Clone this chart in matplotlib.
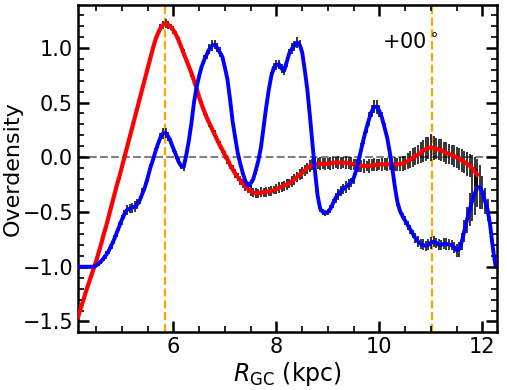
import numpy as np
import matplotlib
matplotlib.use("Agg")
import matplotlib.pyplot as plt
from matplotlib.ticker import MultipleLocator

# overdensity profiles along R_GC (0.05 kpc steps)
r_red = np.round(np.arange(4.15, 11.901, 0.05), 2)
od_red = [-1.46, -1.38, -1.31, -1.23, -1.16, -1.09, -1.02, -0.95, -0.87, -0.79,
          -0.70, -0.62, -0.53, -0.44, -0.35, -0.26, -0.18, -0.09, 0.00, 0.09,
          0.18, 0.27, 0.36, 0.45, 0.54, 0.63, 0.72, 0.81, 0.90, 0.99,
          1.07, 1.13, 1.18, 1.21, 1.22, 1.21, 1.19, 1.16, 1.12, 1.07,
          1.01, 0.95, 0.89, 0.83, 0.77, 0.70, 0.63, 0.55, 0.48, 0.42,
          0.36, 0.31, 0.26, 0.21, 0.16, 0.11, 0.07, 0.02, -0.02, -0.07,
          -0.11, -0.15, -0.18, -0.21, -0.24, -0.27, -0.29, -0.31, -0.32, -0.33,
          -0.33, -0.32, -0.32, -0.32, -0.31, -0.31, -0.30, -0.29, -0.28, -0.27,
          -0.26, -0.25, -0.24, -0.22, -0.20, -0.18, -0.16, -0.14, -0.12, -0.10,
          -0.08, -0.07, -0.06, -0.06, -0.06, -0.06, -0.06, -0.06, -0.055, -0.05,
          -0.05, -0.05, -0.05, -0.05, -0.05, -0.055, -0.06, -0.065, -0.07, -0.075,
          -0.08, -0.08, -0.08, -0.08, -0.075, -0.07, -0.07, -0.065, -0.065, -0.065,
          -0.065, -0.065, -0.065, -0.065, -0.065, -0.06, -0.06, -0.05, -0.035, -0.02,
          -0.005, 0.01, 0.025, 0.04, 0.06, 0.075, 0.085, 0.09, 0.085, 0.08,
          0.07, 0.065, 0.05, 0.04, 0.03, 0.02, 0.01, 0.00, -0.015, -0.03,
          -0.045, -0.06, -0.075, -0.10, -0.13, -0.16]
err_red = [0.015, 0.02, 0.015, 0.02, 0.02, 0.015, 0.02, 0.02, 0.025, 0.02,
           0.02, 0.025, 0.02, 0.025, 0.02, 0.025, 0.03, 0.025, 0.03, 0.025,
           0.03, 0.025, 0.03, 0.03, 0.035, 0.03, 0.03, 0.035, 0.03, 0.035,
           0.03, 0.035, 0.04, 0.035, 0.04, 0.035, 0.03, 0.035, 0.03, 0.03,
           0.03, 0.035, 0.03, 0.03, 0.035, 0.03, 0.03, 0.035, 0.03, 0.03,
           0.035, 0.03, 0.03, 0.035, 0.03, 0.035, 0.03, 0.035, 0.04, 0.035,
           0.035, 0.04, 0.035, 0.04, 0.04, 0.035, 0.04, 0.045, 0.04, 0.045,
           0.04, 0.045, 0.04, 0.045, 0.04, 0.045, 0.04, 0.045, 0.05, 0.045,
           0.045, 0.05, 0.045, 0.05, 0.05, 0.045, 0.05, 0.055, 0.05, 0.05,
           0.055, 0.05, 0.055, 0.05, 0.06, 0.05, 0.055, 0.05, 0.06, 0.055,
           0.05, 0.06, 0.055, 0.05, 0.06, 0.055, 0.06, 0.05, 0.055, 0.06,
           0.055, 0.06, 0.05, 0.06, 0.055, 0.06, 0.055, 0.05, 0.06, 0.055,
           0.06, 0.055, 0.06, 0.065, 0.06, 0.065, 0.07, 0.065, 0.075, 0.08,
           0.085, 0.08, 0.09, 0.095, 0.1, 0.11, 0.1, 0.12, 0.11, 0.1,
           0.095, 0.1, 0.09, 0.1, 0.095, 0.09, 0.1, 0.095, 0.1, 0.105,
           0.1, 0.11, 0.105, 0.12, 0.13, 0.14]

r_blue = np.round(np.arange(4.15, 12.251, 0.05), 2)
od_blue = [-1.00, -1.00, -1.00, -1.00, -1.00, -1.00, -1.00, -0.99, -0.97, -0.95,
           -0.92, -0.89, -0.85, -0.80, -0.75, -0.69, -0.63, -0.57, -0.52, -0.48,
           -0.47, -0.46, -0.45, -0.43, -0.39, -0.33, -0.27, -0.19, -0.10, -0.03,
           0.05, 0.12, 0.18, 0.22, 0.22, 0.19, 0.14, 0.08, 0.02, -0.04,
           -0.08, -0.09, 0.02, 0.15, 0.31, 0.50, 0.64, 0.74, 0.83, 0.89,
           0.94, 0.99, 1.02, 1.03, 1.00, 0.96, 0.92, 0.82, 0.71, 0.53,
           0.33, 0.18, 0.04, -0.06, -0.15, -0.22, -0.26, -0.24, -0.20, -0.12,
           -0.03, 0.09, 0.27, 0.45, 0.61, 0.74, 0.82, 0.84, 0.85, 0.81,
           0.79, 0.87, 0.95, 0.99, 1.02, 1.05, 1.03, 0.96, 0.80, 0.62,
           0.38, 0.12, -0.13, -0.35, -0.47, -0.50, -0.51, -0.50, -0.47, -0.42,
           -0.37, -0.34, -0.31, -0.29, -0.27, -0.25, -0.23, -0.19, -0.12, -0.02,
           0.08, 0.18, 0.27, 0.35, 0.42, 0.46, 0.46, 0.42, 0.36, 0.27,
           0.18, 0.05, -0.10, -0.27, -0.41, -0.49, -0.54, -0.58, -0.62, -0.66,
           -0.70, -0.74, -0.77, -0.79, -0.80, -0.81, -0.80, -0.78, -0.77, -0.78,
           -0.80, -0.80, -0.79, -0.79, -0.80, -0.80, -0.82, -0.85, -0.84, -0.77,
           -0.67, -0.57, -0.48, -0.40, -0.33, -0.28, -0.27, -0.32, -0.40, -0.48,
           -0.62, -0.82, -0.98]
err_blue = [0.005, 0.005, 0.005, 0.005, 0.005, 0.005, 0.01, 0.015, 0.02, 0.025,
            0.03, 0.035, 0.03, 0.035, 0.04, 0.035, 0.04, 0.045, 0.04, 0.045,
            0.04, 0.045, 0.05, 0.045, 0.04, 0.045, 0.04, 0.035, 0.04, 0.035,
            0.035, 0.04, 0.045, 0.05, 0.045, 0.04, 0.035, 0.03, 0.035, 0.03,
            0.03, 0.035, 0.03, 0.03, 0.035, 0.03, 0.035, 0.03, 0.035, 0.04,
            0.04, 0.045, 0.05, 0.045, 0.04, 0.045, 0.035, 0.03, 0.03, 0.03,
            0.025, 0.03, 0.025, 0.03, 0.03, 0.035, 0.03, 0.03, 0.025, 0.03,
            0.03, 0.025, 0.03, 0.035, 0.03, 0.035, 0.04, 0.045, 0.04, 0.045,
            0.04, 0.045, 0.04, 0.05, 0.045, 0.05, 0.045, 0.04, 0.035, 0.03,
            0.03, 0.025, 0.03, 0.025, 0.03, 0.03, 0.025, 0.03, 0.035, 0.04,
            0.045, 0.05, 0.045, 0.05, 0.055, 0.05, 0.045, 0.05, 0.045, 0.05,
            0.05, 0.055, 0.05, 0.06, 0.055, 0.06, 0.065, 0.055, 0.05, 0.045,
            0.04, 0.035, 0.03, 0.03, 0.035, 0.03, 0.035, 0.04, 0.04, 0.045,
            0.04, 0.045, 0.05, 0.045, 0.05, 0.045, 0.05, 0.055, 0.05, 0.045,
            0.05, 0.045, 0.05, 0.055, 0.05, 0.045, 0.05, 0.06, 0.07, 0.08,
            0.1, 0.12, 0.15, 0.18, 0.2, 0.17, 0.2, 0.15, 0.12, 0.1,
            0.07, 0.04, 0.02]

peak_lines = [5.84, 11.02]
label_text = "+00$^\\circ$"

plt.rcParams['font.family'] = 'DejaVu Sans'
fig = plt.figure(figsize=(5.07, 3.90), dpi=100)
ax = fig.add_axes([0.154, 0.149, 0.826, 0.838])

ax.axhline(0, color='gray', ls='--', lw=1.5, zorder=1)
for xv in peak_lines:
    ax.axvline(xv, color='orange', ls='--', lw=1.6, zorder=1)

ax.errorbar(r_red, od_red, yerr=err_red, fmt='none', ecolor='k', elinewidth=1.1, zorder=2)
ax.errorbar(r_blue, od_blue, yerr=err_blue, fmt='none', ecolor='k', elinewidth=1.1, zorder=2)
ax.plot(r_red, od_red, color='red', lw=3, zorder=3)
ax.plot(r_blue, od_blue, color='blue', lw=2.8, zorder=3)

ax.text(0.726, 0.87, label_text, transform=ax.transAxes, fontsize=15)

ax.set_xlim(4.15, 12.28)
ax.set_ylim(-1.595, 1.39)
ax.xaxis.set_major_locator(MultipleLocator(2))
ax.xaxis.set_minor_locator(MultipleLocator(0.5))
ax.yaxis.set_major_locator(MultipleLocator(0.5))
ax.yaxis.set_minor_locator(MultipleLocator(0.1))
ax.tick_params(which='both', direction='in', top=True, right=True, labelsize=15)
ax.tick_params(which='major', length=8, width=1.8)
ax.tick_params(which='minor', length=4, width=1.2)
for sp in ax.spines.values():
    sp.set_linewidth(1.8)

ax.set_xlabel(r'$R_{\rm GC}$ (kpc)', fontsize=17, labelpad=2)
ax.set_ylabel('Overdensity', fontsize=16, labelpad=0)

fig.savefig('out.png', dpi=100)
